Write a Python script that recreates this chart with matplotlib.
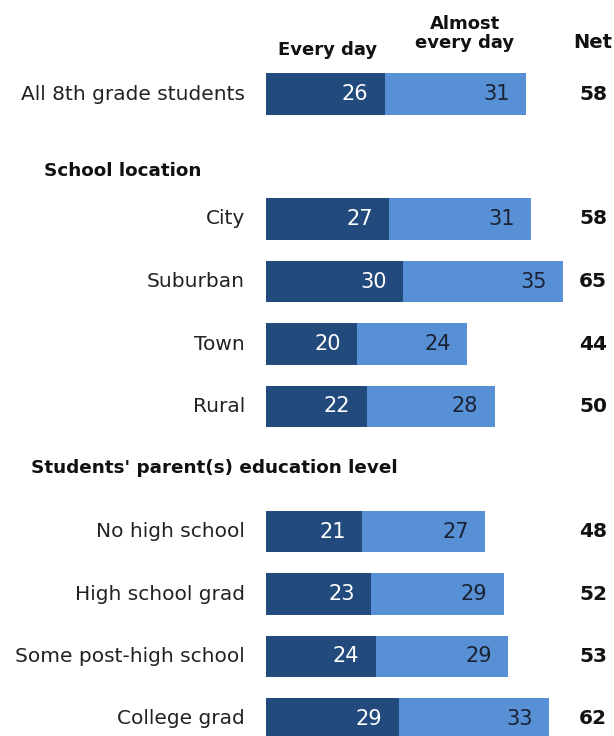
import matplotlib.pyplot as plt

# data
categories = ["All 8th grade students", "City", "Suburban", "Town", "Rural",
              "No high school", "High school grad", "Some post-high school",
              "College grad"]
every_day = [26, 27, 30, 20, 22, 21, 23, 24, 29]
almost_every_day = [31, 31, 35, 24, 28, 27, 29, 29, 33]
net = [58, 58, 65, 44, 50, 48, 52, 53, 62]
groups = ["School location", "Students' parent(s) education level"]

# layout: row slots (gaps left for group headers)
slots = [0, 2, 3, 4, 5, 7, 8, 9, 10]
group_slots = [1.23, 5.98]
group_x = [-48.6, -51.4]

DARK = "#234a7c"
LIGHT = "#5790d4"

plt.rcParams["font.family"] = ["DejaVu Sans"]

fig = plt.figure(figsize=(6.14, 7.36), dpi=100)
ax = fig.add_axes([0, 0, 1, 1])
px = 4.57  # pixels per percentage point
ax.set_xlim(-266 / px, (614 - 266) / px)
ax.set_ylim((736 - 94) / 62.5, -94 / 62.5)
ax.axis("off")

h = 0.66
ax.barh(slots, every_day, height=h, color=DARK, edgecolor="none")
ax.barh(slots, almost_every_day, left=every_day, height=h, color=LIGHT,
        edgecolor="none")

pad = 3.6
for y, cat, e, a, n in zip(slots, categories, every_day, almost_every_day, net):
    ax.text(-4.6, y, cat, ha="right", va="center", fontsize=14.5, color="#222222")
    ax.text(e - pad, y, str(e), ha="right", va="center", fontsize=15,
            color="white")
    ax.text(e + a - pad, y, str(a), ha="right", va="center", fontsize=15,
            color="#1b2233")
    ax.text(71.6, y, str(n), ha="center", va="center", fontsize=14.5,
            fontweight="bold", color="#111111")

for gy, gx, g in zip(group_slots, group_x, groups):
    ax.text(gx, gy, g, ha="left", va="center", fontsize=13.2,
            fontweight="bold", color="#111111")

ax.text(13.5, -0.70, "Every day", ha="center", va="center", fontsize=13,
        fontweight="bold", color="#111111")
ax.text(43.5, -0.97, "Almost\nevery day", ha="center", va="center",
        fontsize=13, fontweight="bold", color="#111111", linespacing=1.05)
ax.text(71.6, -0.83, "Net", ha="center", va="center", fontsize=14,
        fontweight="bold", color="#111111")

fig.savefig("out.png", dpi=100)
